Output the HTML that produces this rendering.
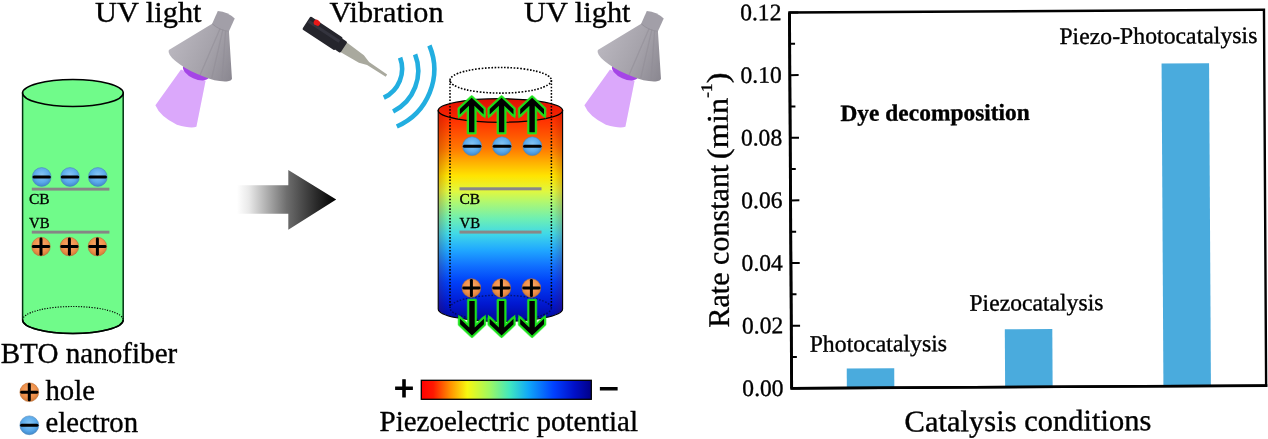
<!DOCTYPE html>
<html><head><meta charset="utf-8"><title>Piezo-photocatalysis BTO nanofiber</title>
<style>
html,body{margin:0;padding:0;background:#fff;}
svg{display:block;will-change:transform;opacity:0.999}
text{font-family:"Liberation Serif","Times New Roman",serif;fill:#000;stroke:#000;stroke-width:0.35px;paint-order:stroke}
.sans{font-family:"Liberation Sans",Arial,sans-serif;font-weight:bold}
</style></head><body>
<svg width="1268" height="439" viewBox="0 0 1268 439">
<defs>
<radialGradient id="gE" cx="50%" cy="40%" r="60%"><stop offset="0" stop-color="#86c6f5"/><stop offset="0.65" stop-color="#5aa9ea"/><stop offset="1" stop-color="#3f88cc"/></radialGradient>
<radialGradient id="gH" cx="50%" cy="40%" r="60%"><stop offset="0" stop-color="#f9aa6c"/><stop offset="0.65" stop-color="#ef904a"/><stop offset="1" stop-color="#d07a38"/></radialGradient>
<linearGradient id="gArrow" x1="0" x2="1" y1="0" y2="0"><stop offset="0" stop-color="#fff"/><stop offset="0.12" stop-color="#e9e9e9"/><stop offset="0.5" stop-color="#6e6e6e"/><stop offset="0.8" stop-color="#2a2a2a"/><stop offset="1" stop-color="#000"/></linearGradient>
<linearGradient id="gRain" x1="0" x2="0" y1="0" y2="1">
<stop offset="0" stop-color="#ff1c00"/><stop offset="0.078" stop-color="#ff4000"/><stop offset="0.18" stop-color="#ff7800"/><stop offset="0.245" stop-color="#ffb000"/><stop offset="0.31" stop-color="#ffe400"/><stop offset="0.383" stop-color="#e0f840"/><stop offset="0.434" stop-color="#b0f870"/><stop offset="0.51" stop-color="#70f0b0"/><stop offset="0.585" stop-color="#40d8e8"/><stop offset="0.661" stop-color="#20a8ff"/><stop offset="0.737" stop-color="#1070ff"/><stop offset="0.813" stop-color="#0040f8"/><stop offset="0.917" stop-color="#0018d0"/><stop offset="1" stop-color="#000898"/></linearGradient>
<linearGradient id="gEdge" x1="0" x2="1" y1="0" y2="0"><stop offset="0" stop-color="#700000" stop-opacity="0.22"/><stop offset="0.08" stop-color="#400000" stop-opacity="0"/><stop offset="0.92" stop-color="#700000" stop-opacity="0"/><stop offset="1" stop-color="#700000" stop-opacity="0.22"/></linearGradient>
<linearGradient id="gBar" x1="0" x2="1" y1="0" y2="0">
<stop offset="0" stop-color="#ff0000"/><stop offset="0.07" stop-color="#ff1800"/><stop offset="0.17" stop-color="#ff9000"/><stop offset="0.27" stop-color="#f8f810"/><stop offset="0.4" stop-color="#a0f860"/><stop offset="0.52" stop-color="#40e8c0"/><stop offset="0.63" stop-color="#10a8f8"/><stop offset="0.78" stop-color="#0040ff"/><stop offset="0.9" stop-color="#0010c8"/><stop offset="1" stop-color="#000088"/></linearGradient>
<linearGradient id="gCone" x1="0" x2="1" y1="0" y2="0"><stop offset="0" stop-color="#b9b6be"/><stop offset="0.55" stop-color="#a5a2aa"/><stop offset="1" stop-color="#8a8790"/></linearGradient>
<linearGradient id="gRedTop" x1="0" x2="0" y1="0" y2="1"><stop offset="0" stop-color="#e01000"/><stop offset="1" stop-color="#ff2a00"/></linearGradient>
<filter id="blur1" x="-20%" y="-20%" width="140%" height="140%"><feGaussianBlur stdDeviation="0.7"/></filter>
<filter id="blur2" x="-20%" y="-20%" width="140%" height="140%"><feGaussianBlur stdDeviation="1.2"/></filter>

<g id="lamp">
<path d="M181,69.5 L205.6,80.7 L196.4,126.8 Q191,129 176.9,124.8 Q160,116.5 155.4,105.3 Z" fill="#dba8fb" filter="url(#blur1)"/>
<ellipse cx="196" cy="71.8" rx="14" ry="7" transform="rotate(24.5 196 71.8)" fill="#a545e6"/>
<g transform="translate(200.4 64.5) rotate(24.5)">
<path d="M-34.7,0 A34.7,10 0 0 0 34.7,0 L12.2,-42 L-6.2,-42 Z" fill="url(#gCone)"/>
<path d="M-6.2,-41.5 L-6.4,-56 Q3,-59.5 12.2,-56 L12.2,-41.5 Q3,-38.5 -6.2,-41.5 Z" fill="#a29fa8"/>
<path d="M-6.2,-42 Q3,-39 12.2,-42" stroke="#8e8b94" stroke-width="0.8" fill="none" opacity="0.7"/>
<path d="M6,-41 L16,7.8 M3,-41 L4,9.6 M9,-41 L26,5" stroke="#8f8c95" stroke-width="1.3" fill="none" opacity="0.55"/>
</g>
</g>
</defs>
<rect width="1268" height="439" fill="#fff"/>
<path d="M22.60000000000001,93 L22.60000000000001,320 A50.3,13.5 0 0 0 123.2,320 L123.2,93 Z" fill="#70fb8a" stroke="#031" stroke-width="1.5"/>
<path d="M22.60000000000001,320 A50.3,13.5 0 0 0 123.2,320" fill="none" stroke="#000" stroke-width="1.5"/>
<ellipse cx="72.9" cy="93" rx="50.3" ry="13.5" fill="#70fb8a" stroke="#000" stroke-width="1.6"/>
<path d="M22.60000000000001,320 A50.3,13.5 0 0 1 123.2,320" fill="none" stroke="#000" stroke-width="1.15" stroke-dasharray="1.2 1.4"/>
<circle cx="41.7" cy="177" r="9.4" fill="url(#gE)" stroke="#4d86b8" stroke-width="0.6"/><rect x="32.5" y="175.45" width="18.4" height="3.1" rx="1.5" fill="#000"/>
<circle cx="70" cy="177" r="9.4" fill="url(#gE)" stroke="#4d86b8" stroke-width="0.6"/><rect x="60.8" y="175.45" width="18.4" height="3.1" rx="1.5" fill="#000"/>
<circle cx="97.8" cy="177" r="9.4" fill="url(#gE)" stroke="#4d86b8" stroke-width="0.6"/><rect x="88.6" y="175.45" width="18.4" height="3.1" rx="1.5" fill="#000"/>
<rect x="31.8" y="187.7" width="77.6" height="2.9" fill="#868686"/>
<text x="29" y="203.7" font-size="15.3" stroke-width="0.6" textLength="20.6" lengthAdjust="spacingAndGlyphs">CB</text>
<text x="29" y="228" font-size="15.3" stroke-width="0.6" textLength="20.6" lengthAdjust="spacingAndGlyphs">VB</text>
<rect x="31.8" y="230.7" width="77.6" height="2.9" fill="#868686"/>
<circle cx="41" cy="246.6" r="9.3" fill="url(#gH)" stroke="#b8703a" stroke-width="0.6"/><rect x="31.9" y="245.1" width="18.2" height="3" rx="1.4" fill="#000"/><rect x="39.5" y="237.5" width="3" height="18.2" rx="1.4" fill="#000"/>
<circle cx="69.4" cy="246.6" r="9.3" fill="url(#gH)" stroke="#b8703a" stroke-width="0.6"/><rect x="60.300000000000004" y="245.1" width="18.2" height="3" rx="1.4" fill="#000"/><rect x="67.9" y="237.5" width="3" height="18.2" rx="1.4" fill="#000"/>
<circle cx="97.4" cy="246.6" r="9.3" fill="url(#gH)" stroke="#b8703a" stroke-width="0.6"/><rect x="88.30000000000001" y="245.1" width="18.2" height="3" rx="1.4" fill="#000"/><rect x="95.9" y="237.5" width="3" height="18.2" rx="1.4" fill="#000"/>
<text x="0.7" y="362.5" font-size="29" textLength="176.6" lengthAdjust="spacingAndGlyphs">BTO nanofiber</text>
<circle cx="29.3" cy="392.2" r="9.4" fill="url(#gH)" stroke="#b8703a" stroke-width="0.6"/><rect x="20.200000000000003" y="390.7" width="18.2" height="3" rx="1.4" fill="#000"/><rect x="27.8" y="383.09999999999997" width="3" height="18.2" rx="1.4" fill="#000"/>
<text x="45.5" y="399.7" font-size="29" textLength="49.5" lengthAdjust="spacingAndGlyphs">hole</text>
<circle cx="29.3" cy="425.3" r="9.4" fill="url(#gE)" stroke="#4d86b8" stroke-width="0.6"/><rect x="20.1" y="423.75" width="18.4" height="3.1" rx="1.5" fill="#000"/>
<text x="45.5" y="432.4" font-size="29" textLength="92.5" lengthAdjust="spacingAndGlyphs">electron</text>
<text x="95" y="21.5" font-size="30" textLength="106.5" lengthAdjust="spacingAndGlyphs">UV light</text>
<text x="329.5" y="21.5" font-size="30" textLength="114" lengthAdjust="spacingAndGlyphs">Vibration</text>
<text x="524" y="21.5" font-size="30" textLength="106.5" lengthAdjust="spacingAndGlyphs">UV light</text>
<use href="#lamp"/>
<use href="#lamp" transform="translate(429 0)"/>
<path d="M237,185.3 L288.3,185.3 L288.3,170 L336.2,199.5 L288.3,229.7 L288.3,213.8 L237,213.8 Z" fill="url(#gArrow)"/>
<g transform="translate(306.3 22.7) rotate(33.4)">
<path d="M44,-5.8 L66,-4.5 L74,-1.8 L96,-1.3 L96,1.3 L74,1.8 L66,4.5 L44,5.8 Z" fill="#a9a99e"/>
<rect x="0" y="-7.7" width="39" height="15.4" rx="1.5" fill="#25252c"/>
<rect x="38" y="-6.6" width="7" height="13.2" rx="1.5" fill="#25252c"/>
<rect x="1" y="-4" width="37" height="3" fill="#3a3a46" opacity="0.7"/>
<ellipse cx="8.9" cy="-5.8" rx="3.4" ry="2.8" fill="#e81818"/>
</g>
<path d="M400.1,57.6 A32,32 0 0 1 383.8,97.7" fill="none" stroke="#22aee0" stroke-width="4.6"/>
<path d="M415.1,54.3 A45.5,45.5 0 0 1 393.1,111.5" fill="none" stroke="#22aee0" stroke-width="4.6"/>
<path d="M429.4,45.5 A62.2,62.2 0 0 1 396.8,126.5" fill="none" stroke="#22aee0" stroke-width="4.6"/>
<path d="M438.2,110.5 L438.2,309 A62.2,12.5 0 0 0 562.6,309 L562.6,110.5 Z" fill="url(#gRain)"/>
<path d="M438.2,110.5 L438.2,309 A62.2,12.5 0 0 0 562.6,309 L562.6,110.5 Z" fill="url(#gEdge)" stroke="#000" stroke-width="1.1"/>
<ellipse cx="500.4" cy="110.5" rx="62.2" ry="11.8" fill="url(#gRedTop)" stroke="#000" stroke-width="1.3"/>
<ellipse cx="500.7" cy="80.3" rx="50.7" ry="12.8" fill="none" stroke="#000" stroke-width="1.6" stroke-dasharray="1.6 1.6"/>
<ellipse cx="500.7" cy="308" rx="50.7" ry="12.8" fill="none" stroke="#000" stroke-width="1.5" stroke-dasharray="1.6 1.6" opacity="0.45"/>
<path d="M450.0,80.3 L450.0,308 M551.4,80.3 L551.4,308" fill="none" stroke="#000" stroke-width="1.5" stroke-dasharray="1.6 1.6"/>
<circle cx="472.1" cy="146.2" r="9.4" fill="url(#gE)" stroke="#4d86b8" stroke-width="0.6"/><rect x="462.90000000000003" y="144.64999999999998" width="18.4" height="3.1" rx="1.5" fill="#000"/>
<circle cx="502" cy="146.2" r="9.4" fill="url(#gE)" stroke="#4d86b8" stroke-width="0.6"/><rect x="492.8" y="144.64999999999998" width="18.4" height="3.1" rx="1.5" fill="#000"/>
<circle cx="532.3" cy="146.2" r="9.4" fill="url(#gE)" stroke="#4d86b8" stroke-width="0.6"/><rect x="523.0999999999999" y="144.64999999999998" width="18.4" height="3.1" rx="1.5" fill="#000"/>
<rect x="459.5" y="187.3" width="82" height="3" fill="#888"/>
<text x="459.5" y="203.7" font-size="15.3" stroke-width="0.6" textLength="20.6" lengthAdjust="spacingAndGlyphs">CB</text>
<text x="459.5" y="228" font-size="15.3" stroke-width="0.6" textLength="20.6" lengthAdjust="spacingAndGlyphs">VB</text>
<rect x="459.5" y="230.6" width="82" height="3" fill="#888"/>
<circle cx="471.4" cy="288" r="9.3" fill="url(#gH)" stroke="#b8703a" stroke-width="0.6"/><rect x="462.29999999999995" y="286.5" width="18.2" height="3" rx="1.4" fill="#000"/><rect x="469.9" y="278.9" width="3" height="18.2" rx="1.4" fill="#000"/>
<circle cx="501.4" cy="288" r="9.3" fill="url(#gH)" stroke="#b8703a" stroke-width="0.6"/><rect x="492.29999999999995" y="286.5" width="18.2" height="3" rx="1.4" fill="#000"/><rect x="499.9" y="278.9" width="3" height="18.2" rx="1.4" fill="#000"/>
<circle cx="531.4" cy="288" r="9.3" fill="url(#gH)" stroke="#b8703a" stroke-width="0.6"/><rect x="522.3" y="286.5" width="18.2" height="3" rx="1.4" fill="#000"/><rect x="529.9" y="278.9" width="3" height="18.2" rx="1.4" fill="#000"/>
<polygon points="471.7,97.8 483.6,109.1 483.6,114.6 474.4,105.7 474.4,132.2 469.0,132.2 469.0,105.7 459.8,114.6 459.8,109.1" fill="#22e022" stroke="#2ee82e" stroke-width="5" stroke-linejoin="round" filter="url(#blur1)" opacity="0.55"/>
<polygon points="471.7,97.8 483.6,109.1 483.6,114.6 474.4,105.7 474.4,132.2 469.0,132.2 469.0,105.7 459.8,114.6 459.8,109.1" fill="#000" stroke="#19e019" stroke-width="3.6" stroke-linejoin="miter" paint-order="stroke"/>
<polygon points="501.6,97.8 513.5,109.1 513.5,114.6 504.3,105.7 504.3,132.2 498.9,132.2 498.9,105.7 489.7,114.6 489.7,109.1" fill="#22e022" stroke="#2ee82e" stroke-width="5" stroke-linejoin="round" filter="url(#blur1)" opacity="0.55"/>
<polygon points="501.6,97.8 513.5,109.1 513.5,114.6 504.3,105.7 504.3,132.2 498.9,132.2 498.9,105.7 489.7,114.6 489.7,109.1" fill="#000" stroke="#19e019" stroke-width="3.6" stroke-linejoin="miter" paint-order="stroke"/>
<polygon points="532.1,97.8 544.0,109.1 544.0,114.6 534.8,105.7 534.8,132.2 529.4,132.2 529.4,105.7 520.2,114.6 520.2,109.1" fill="#22e022" stroke="#2ee82e" stroke-width="5" stroke-linejoin="round" filter="url(#blur1)" opacity="0.55"/>
<polygon points="532.1,97.8 544.0,109.1 544.0,114.6 534.8,105.7 534.8,132.2 529.4,132.2 529.4,105.7 520.2,114.6 520.2,109.1" fill="#000" stroke="#19e019" stroke-width="3.6" stroke-linejoin="miter" paint-order="stroke"/>
<polygon points="472.0,335.5 483.9,324.2 483.9,318.7 474.7,327.6 474.7,301.1 469.3,301.1 469.3,327.6 460.1,318.7 460.1,324.2" fill="#22e022" stroke="#2ee82e" stroke-width="5" stroke-linejoin="round" filter="url(#blur1)" opacity="0.55"/>
<polygon points="472.0,335.5 483.9,324.2 483.9,318.7 474.7,327.6 474.7,301.1 469.3,301.1 469.3,327.6 460.1,318.7 460.1,324.2" fill="#000" stroke="#19e019" stroke-width="3.6" stroke-linejoin="miter" paint-order="stroke"/>
<polygon points="501.6,335.5 513.5,324.2 513.5,318.7 504.3,327.6 504.3,301.1 498.9,301.1 498.9,327.6 489.7,318.7 489.7,324.2" fill="#22e022" stroke="#2ee82e" stroke-width="5" stroke-linejoin="round" filter="url(#blur1)" opacity="0.55"/>
<polygon points="501.6,335.5 513.5,324.2 513.5,318.7 504.3,327.6 504.3,301.1 498.9,301.1 498.9,327.6 489.7,318.7 489.7,324.2" fill="#000" stroke="#19e019" stroke-width="3.6" stroke-linejoin="miter" paint-order="stroke"/>
<polygon points="532.1,335.5 544.0,324.2 544.0,318.7 534.8,327.6 534.8,301.1 529.4,301.1 529.4,327.6 520.2,318.7 520.2,324.2" fill="#22e022" stroke="#2ee82e" stroke-width="5" stroke-linejoin="round" filter="url(#blur1)" opacity="0.55"/>
<polygon points="532.1,335.5 544.0,324.2 544.0,318.7 534.8,327.6 534.8,301.1 529.4,301.1 529.4,327.6 520.2,318.7 520.2,324.2" fill="#000" stroke="#19e019" stroke-width="3.6" stroke-linejoin="miter" paint-order="stroke"/>
<rect x="421.3" y="380.3" width="170" height="19" fill="url(#gBar)" stroke="#000" stroke-width="1.3"/>
<text class="sans" x="404" y="399.7" font-size="34.3" text-anchor="middle" style="font-weight:normal;stroke-width:1.06px">+</text>
<text class="sans" x="608.5" y="400.1" font-size="34.3" text-anchor="middle" style="font-weight:normal;stroke-width:1.06px">−</text>
<text x="379.5" y="431.1" font-size="29" textLength="258.5" lengthAdjust="spacingAndGlyphs">Piezoelectric potential</text>
<g transform="rotate(-0.33 1027.8 199.05)">
<rect x="845.75" y="367.5" width="47.5" height="19.45" fill="#4aabdd"/>
<rect x="1004.05" y="329.1" width="47.5" height="57.85" fill="#4aabdd"/>
<rect x="1162.35" y="64.3" width="47.5" height="322.65" fill="#4aabdd"/>
<rect x="790.55" y="11.15" width="474.50" height="375.80" fill="none" stroke="#000" stroke-width="2.4"/>
<line x1="789.3499999999999" y1="386.95" x2="1266.25" y2="386.95" stroke="#000" stroke-width="2.7"/>
<line x1="790.55" y1="11.15" x2="790.55" y2="386.95" stroke="#000" stroke-width="2.9"/>
<line x1="790.55" y1="386.95" x2="799.3499999999999" y2="386.95" stroke="#000" stroke-width="2"/>
<text x="782.5" y="394.45" font-size="23.6" text-anchor="end">0.00</text>
<line x1="790.55" y1="355.63" x2="795.9499999999999" y2="355.63" stroke="#000" stroke-width="2"/>
<line x1="790.55" y1="324.32" x2="799.3499999999999" y2="324.32" stroke="#000" stroke-width="2"/>
<text x="782.5" y="331.82" font-size="23.6" text-anchor="end">0.02</text>
<line x1="790.55" y1="293.00" x2="795.9499999999999" y2="293.00" stroke="#000" stroke-width="2"/>
<line x1="790.55" y1="261.68" x2="799.3499999999999" y2="261.68" stroke="#000" stroke-width="2"/>
<text x="782.5" y="269.18" font-size="23.6" text-anchor="end">0.04</text>
<line x1="790.55" y1="230.37" x2="795.9499999999999" y2="230.37" stroke="#000" stroke-width="2"/>
<line x1="790.55" y1="199.05" x2="799.3499999999999" y2="199.05" stroke="#000" stroke-width="2"/>
<text x="782.5" y="206.55" font-size="23.6" text-anchor="end">0.06</text>
<line x1="790.55" y1="167.73" x2="795.9499999999999" y2="167.73" stroke="#000" stroke-width="2"/>
<line x1="790.55" y1="136.42" x2="799.3499999999999" y2="136.42" stroke="#000" stroke-width="2"/>
<text x="782.5" y="143.92" font-size="23.6" text-anchor="end">0.08</text>
<line x1="790.55" y1="105.10" x2="795.9499999999999" y2="105.10" stroke="#000" stroke-width="2"/>
<line x1="790.55" y1="73.78" x2="799.3499999999999" y2="73.78" stroke="#000" stroke-width="2"/>
<text x="782.5" y="81.28" font-size="23.6" text-anchor="end">0.10</text>
<line x1="790.55" y1="42.47" x2="795.9499999999999" y2="42.47" stroke="#000" stroke-width="2"/>
<line x1="790.55" y1="11.15" x2="799.3499999999999" y2="11.15" stroke="#000" stroke-width="2"/>
<text x="782.5" y="18.65" font-size="23.6" text-anchor="end">0.12</text>
<text x="877.5" y="350.6" font-size="23.6" text-anchor="middle" textLength="137.5" lengthAdjust="spacingAndGlyphs">Photocatalysis</text>
<text x="1035.8" y="310.5" font-size="23.6" text-anchor="middle" textLength="134" lengthAdjust="spacingAndGlyphs">Piezocatalysis</text>
<text x="1159.3" y="44.3" font-size="23.6" text-anchor="middle" textLength="198" lengthAdjust="spacingAndGlyphs">Piezo-Photocatalysis</text>
<text x="935.6" y="119.9" font-size="23.3" font-weight="bold" text-anchor="middle" textLength="189.5" lengthAdjust="spacingAndGlyphs">Dye decomposition</text>
<text x="1026.7" y="430.85" font-size="30" text-anchor="middle" textLength="247" lengthAdjust="spacingAndGlyphs">Catalysis conditions</text>
<text transform="translate(728.2 325.8) rotate(-90)" font-size="30" textLength="162.8" lengthAdjust="spacingAndGlyphs">Rate constant</text>
<text transform="translate(728.2 157.4) rotate(-90)" font-size="30" textLength="86.6" lengthAdjust="spacingAndGlyphs">(min<tspan font-size="16" dy="-15.5">-1</tspan><tspan dy="15.5">)</tspan></text>
</g>
</svg></body></html>
